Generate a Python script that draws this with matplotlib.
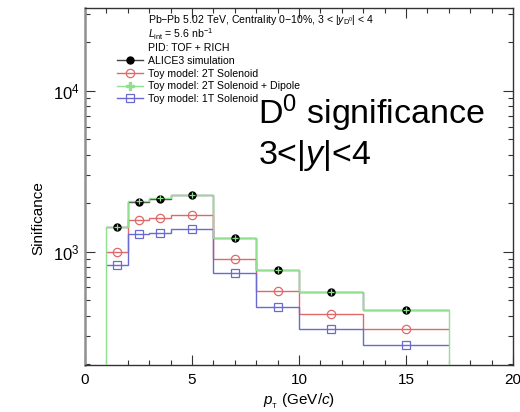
import matplotlib
matplotlib.use("Agg")
import matplotlib.pyplot as plt
from matplotlib.ticker import LogLocator, NullFormatter, MultipleLocator
from matplotlib.lines import Line2D

plt.rcParams["font.family"] = ["Liberation Sans", "DejaVu Sans"]
plt.rcParams["mathtext.fontset"] = "custom"
plt.rcParams["mathtext.rm"] = "Liberation Sans"
plt.rcParams["mathtext.it"] = "Liberation Sans:italic"
plt.rcParams["mathtext.bf"] = "Liberation Sans:bold"

# pT binning (GeV/c) and bin centres
bin_edges = [1, 2, 3, 4, 6, 8, 10, 13, 17]
bin_centres = [1.5, 2.5, 3.5, 5, 7, 9, 11.5, 15]

# significance per pT bin
alice3 = [1420, 2036, 2123, 2250, 1211, 773, 565, 435]
sol2t_dipole = [1425, 2074, 2147, 2260, 1211, 773, 565, 435]
sol2t = [1000, 1574, 1626, 1690, 897, 573, 411, 330]
sol1t = [823, 1283, 1313, 1378, 735, 452, 330, 262]

labels = ["ALICE3 simulation",
          "Toy model: 2T Solenoid",
          "Toy model: 2T Solenoid + Dipole",
          "Toy model: 1T Solenoid"]
header = [r"Pb$-$Pb 5.02 TeV, Centrality 0$-$10%, 3 < |$y_{\mathrm{D}^0}$| < 4",
          r"$L_{\mathrm{int}}$ = 5.6 nb$^{-1}$",
          "PID: TOF + RICH"]
header_baselines = [23, 38, 51]

c_red = "#e06868"
c_green = "#90e090"
c_blue = "#6a6ad0"
c_dark = "#444444"

W, H = 520, 412
fig = plt.figure(figsize=(W / 100, H / 100), dpi=100)
ax = fig.add_axes([85 / W, 1 - 365 / H, (513 - 85) / W, (365 - 8) / H])
ax.set_yscale("log")
ax.set_xlim(0, 20)
ax.set_ylim(198, 32700)

ax.stairs(alice3, bin_edges, color=c_dark, lw=1.0, baseline=None, zorder=2)
ax.stairs(sol2t_dipole, bin_edges, color=c_green, lw=1.0, baseline=1, zorder=3)
ax.stairs(sol2t, bin_edges, color=c_red, lw=1.0, baseline=None, zorder=2)
ax.stairs(sol1t, bin_edges, color=c_blue, lw=1.0, baseline=None, zorder=2)

ax.plot(bin_centres, sol2t, ls="none", marker="o", ms=6, mfc="none",
        mec=c_red, mew=0.9, zorder=4)
ax.plot(bin_centres, sol1t, ls="none", marker="s", ms=6, mfc="none",
        mec=c_blue, mew=0.9, zorder=4)
ax.plot(bin_centres, alice3, ls="none", marker="o", ms=5, color="black", zorder=5)
ax.plot(bin_centres, sol2t_dipole, ls="none", marker="+", ms=4.5, mew=0.9,
        color=c_green, zorder=6)

# header lines above the legend
for line, yb in zip(header, header_baselines):
    fig.text(148 / W, 1 - yb / H, line, fontsize=7.6, va="baseline")

handles = [
    Line2D([], [], color=c_dark, lw=1, marker="o", ms=5, mfc="black", mec="black"),
    Line2D([], [], color=c_red, lw=1, marker="o", ms=6, mfc="none", mec=c_red, mew=0.9),
    Line2D([], [], color=c_green, lw=1, marker="P", ms=6, mfc=c_green, mec=c_green),
    Line2D([], [], color=c_blue, lw=1, marker="s", ms=6, mfc="none", mec=c_blue, mew=0.9),
]
leg = ax.legend(handles, labels, loc="upper left",
                bbox_to_anchor=(117 / W, 1 - 56 / H), bbox_transform=fig.transFigure,
                frameon=False, fontsize=7.6, handlelength=2.45, handletextpad=0.5,
                borderpad=0, borderaxespad=0, labelspacing=0.25)

fig.text(258 / W, 1 - 124 / H, r"D$^0$ significance", fontsize=24.5, va="baseline")
fig.text(258 / W, 1 - 164 / H, r"3<|$y$|<4", fontsize=24.5, va="baseline")

# axes styling
ax.xaxis.set_major_locator(MultipleLocator(5))
ax.xaxis.set_minor_locator(MultipleLocator(1))
ax.yaxis.set_major_locator(LogLocator(base=10))
ax.yaxis.set_minor_locator(LogLocator(base=10, subs=range(2, 10)))
ax.yaxis.set_minor_formatter(NullFormatter())
ax.tick_params(which="both", direction="in", top=True, right=True, labelsize=11,
               color="#333333")
ax.tick_params(which="major", length=7, width=0.8)
ax.tick_params(which="minor", length=3.5, width=0.8)
ax.tick_params(axis="x", pad=6)
ax.tick_params(axis="y", pad=4, labelsize=12)
for s in ["top", "right", "bottom"]:
    ax.spines[s].set_color("#333333")
    ax.spines[s].set_linewidth(1.0)
ax.spines["left"].set_color("#909090")
ax.spines["left"].set_linewidth(1.8)

ax.set_xlabel(r"$p_{_\mathrm{T}}$ (GeV/$c$)", fontsize=11)
ax.xaxis.set_label_coords(0.5, -(392 - 365) / (365 - 8), transform=ax.transAxes)
ax.xaxis.label.set_va("top")
ax.set_ylabel("Sinificance", fontsize=11)
ax.yaxis.set_label_coords(-(85 - 38) / (513 - 85), (365 - 218) / (365 - 8),
                          transform=ax.transAxes)
ax.yaxis.label.set_va("center")

fig.savefig("out.png", dpi=100)
